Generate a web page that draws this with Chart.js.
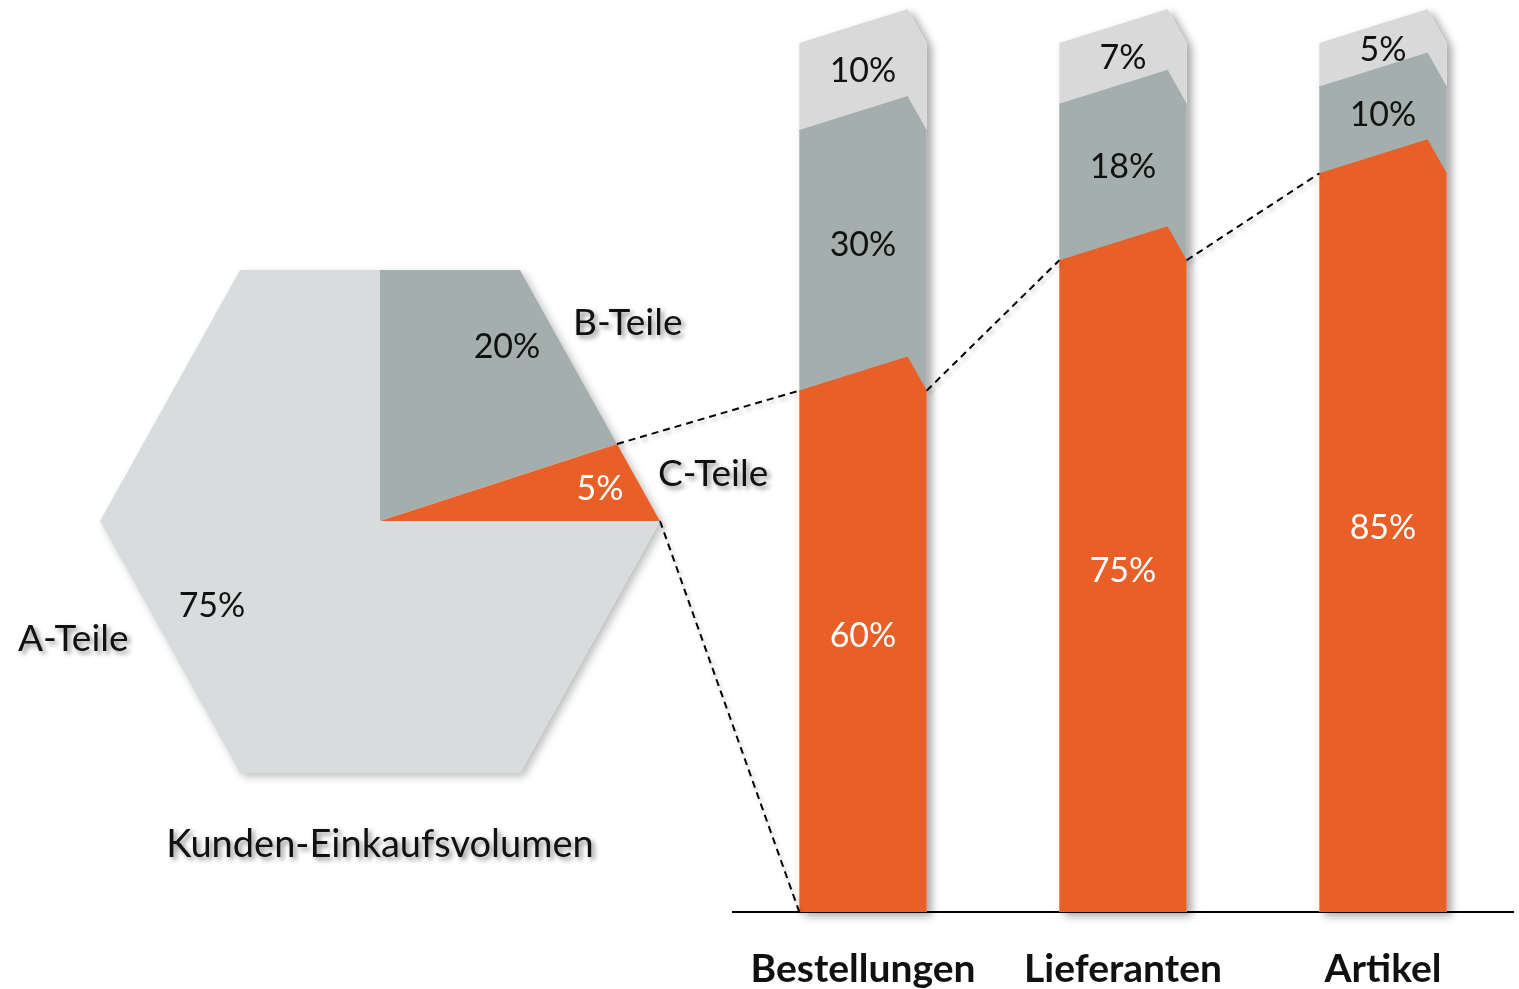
<!DOCTYPE html>
<html>
<head>
<meta charset="utf-8">
<script src="https://cdn.jsdelivr.net/npm/chart.js@4.4.0/dist/chart.umd.min.js"></script>
<style>
  html, body { margin: 0; padding: 0; background: #fff; overflow: hidden; }
  .box { position: absolute; left: 0; top: 0; }
</style>
</head>
<body>
<div class="box" style="width:800px;height:989px"><canvas id="pie"></canvas></div>
<div class="box" style="width:1519px;height:989px"><canvas id="bars"></canvas></div>
<script>
// Pie (hexagon): B, C, A clockwise from the top
var pieLabels = ['B-Teile', 'C-Teile', 'A-Teile'];
var pieValues = [20, 5, 75];
var pieTitle = 'Kunden-Einkaufsvolumen';

// Stacked bars
var categories = ['Bestellungen', 'Lieferanten', 'Artikel'];
var cTeile = [60, 75, 85];
var bTeile = [30, 18, 10];
var aTeile = [10, 7, 5];

var ORANGE = '#E95F28', GRAY = '#A3AEAD', LIGHT = '#D9D9D9', PIE_LIGHT = '#D9DCDD';
var FONT = 'Lato, "Open Sans", sans-serif';

// hexagon corners relative to the pie centre
var hex = [[280, 0], [140, -251], [-140, -251], [-280, 0], [-140, 252], [140, 252]];

function hexPath(ctx, cx, cy) {
    ctx.beginPath();
    hex.forEach(function (p, i) {
        if (i === 0) ctx.moveTo(cx + p[0], cy + p[1]);
        else ctx.lineTo(cx + p[0], cy + p[1]);
    });
    ctx.closePath();
}

// where a ray from the centre leaves the hexagon
function hexPoint(cx, cy, ang) {
    var dx = Math.cos(ang), dy = Math.sin(ang), best = null;
    for (var i = 0; i < hex.length; i++) {
        var a = hex[i], b = hex[(i + 1) % hex.length];
        var ex = b[0] - a[0], ey = b[1] - a[1];
        var den = dx * ey - dy * ex;
        if (Math.abs(den) < 1e-9) continue;
        var t = (a[0] * ey - a[1] * ex) / den;
        var s = (a[0] * dy - a[1] * dx) / den;
        if (t > 0 && s >= -1e-6 && s <= 1 + 1e-6 && (best === null || t < best)) best = t;
    }
    return { x: cx + dx * best, y: cy + dy * best };
}

var pieText = {
    id: 'pieText',
    beforeDatasetsDraw: function (chart) {
        var ctx = chart.ctx, arc = chart.getDatasetMeta(0).data[0];
        ctx.save();
        ctx.shadowColor = 'rgba(0,0,0,0.25)';
        ctx.shadowBlur = 8;
        ctx.shadowOffsetX = 4;
        ctx.shadowOffsetY = 4;
        hexPath(ctx, arc.x, arc.y);
        ctx.fillStyle = '#fff';
        ctx.fill();
        ctx.restore();
        ctx.save();
        hexPath(ctx, arc.x, arc.y);
        ctx.clip();
    },
    afterDatasetsDraw: function (chart) {
        var ctx = chart.ctx;
        ctx.restore();

        // values inside the hexagon
        var valuePos = [[507, 347], [600, 489], [212, 606]];
        var valueColor = ['#111', '#fff', '#111'];
        ctx.save();
        ctx.font = '34px ' + FONT;
        ctx.textAlign = 'center';
        ctx.textBaseline = 'middle';
        pieValues.forEach(function (v, i) {
            ctx.fillStyle = valueColor[i];
            ctx.fillText(v + '%', valuePos[i][0], valuePos[i][1]);
        });
        ctx.restore();

        // names around it, with a soft shadow
        var namePos = [[573, 323], [658, 474], [18, 639]];
        ctx.save();
        ctx.font = '37px ' + FONT;
        ctx.fillStyle = '#111';
        ctx.textBaseline = 'middle';
        ctx.shadowColor = 'rgba(0,0,0,0.45)';
        ctx.shadowBlur = 5;
        ctx.shadowOffsetX = 3;
        ctx.shadowOffsetY = 3;
        pieLabels.forEach(function (n, i) {
            ctx.textAlign = 'left';
            ctx.fillText(n, namePos[i][0], namePos[i][1]);
        });
        ctx.textAlign = 'center';
        ctx.font = '38px ' + FONT;
        ctx.fillText(pieTitle, 380, 845);
        ctx.restore();
    }
};

var pieChart = new Chart(document.getElementById('pie'), {
    type: 'pie',
    data: {
        labels: pieLabels,
        datasets: [{
            data: pieValues,
            backgroundColor: [GRAY, ORANGE, PIE_LIGHT],
            borderWidth: 0,
            hoverOffset: 0
        }]
    },
    options: {
        responsive: true,
        maintainAspectRatio: false,
        animation: false,
        events: [],
        layout: { padding: { left: 80, right: 120, top: 221, bottom: 168 } },
        plugins: { legend: { display: false }, tooltip: { enabled: false } }
    },
    plugins: [pieText]
});

var CAP = 34, PEAK = 0.85;

function capPath(ctx, el, seam) {
    var l = el.x - el.width / 2, r = el.x + el.width / 2;
    if (seam) ctx.moveTo(l, el.y + 1.5);
    ctx.lineTo(l, el.y);
    ctx.lineTo(l + el.width * PEAK, el.y - CAP);
    ctx.lineTo(r, el.y);
    if (seam) ctx.lineTo(r, el.y + 1.5);
}

var barDecor = {
    id: 'barDecor',
    beforeDatasetsDraw: function (chart) {
        var ctx = chart.ctx;
        var bottom = chart.getDatasetMeta(0).data, top = chart.getDatasetMeta(2).data;
        ctx.save();
        ctx.shadowColor = 'rgba(0,0,0,0.35)';
        ctx.shadowBlur = 8;
        ctx.shadowOffsetX = 5;
        ctx.shadowOffsetY = 4;
        ctx.fillStyle = '#fff';
        top.forEach(function (el, i) {
            var l = el.x - el.width / 2, r = el.x + el.width / 2;
            ctx.beginPath();
            ctx.moveTo(l, bottom[i].base);
            capPath(ctx, el, false);
            ctx.lineTo(r, bottom[i].base);
            ctx.closePath();
            ctx.fill();
        });
        ctx.restore();
    },
    afterDatasetsDraw: function (chart) {
        var ctx = chart.ctx;
        var textColor = ['#fff', '#111', '#111'];
        ctx.save();
        chart.data.datasets.forEach(function (ds, d) {
            var meta = chart.getDatasetMeta(d);
            ctx.fillStyle = ds.backgroundColor;
            meta.data.forEach(function (el) {
                ctx.beginPath();
                capPath(ctx, el, d < 2);
                ctx.closePath();
                ctx.fill();
            });
        });
        ctx.font = '34px ' + FONT;
        ctx.textAlign = 'center';
        ctx.textBaseline = 'middle';
        chart.data.datasets.forEach(function (ds, d) {
            var meta = chart.getDatasetMeta(d);
            ctx.fillStyle = textColor[d];
            meta.data.forEach(function (el, i) {
                ctx.fillText(ds.data[i] + '%', el.x, (el.y + el.base) / 2 - 15);
            });
        });
        ctx.restore();

        // dashed connectors
        var c = chart.getDatasetMeta(0).data;
        var arc = pieChart.getDatasetMeta(0).data[1];
        var p1 = hexPoint(arc.x, arc.y, arc.startAngle);
        var p2 = hexPoint(arc.x, arc.y, arc.endAngle);
        var segs = [
            [p1.x, p1.y, c[0].x - c[0].width / 2, c[0].y],
            [p2.x, p2.y, c[0].x - c[0].width / 2, c[0].base],
            [c[0].x + c[0].width / 2, c[0].y, c[1].x - c[1].width / 2, c[1].y],
            [c[1].x + c[1].width / 2, c[1].y, c[2].x - c[2].width / 2, c[2].y]
        ];
        ctx.save();
        ctx.strokeStyle = '#000';
        ctx.lineWidth = 2;
        ctx.setLineDash([7, 5]);
        ctx.shadowColor = 'rgba(0,0,0,0.25)';
        ctx.shadowBlur = 4;
        ctx.shadowOffsetX = 2;
        ctx.shadowOffsetY = 3;
        segs.forEach(function (s) {
            ctx.beginPath();
            ctx.moveTo(s[0], s[1]);
            ctx.lineTo(s[2], s[3]);
            ctx.stroke();
        });
        ctx.restore();
    }
};

new Chart(document.getElementById('bars'), {
    type: 'bar',
    data: {
        labels: categories,
        datasets: [
            { label: 'C-Teile', data: cTeile, backgroundColor: ORANGE },
            { label: 'B-Teile', data: bTeile, backgroundColor: GRAY },
            { label: 'A-Teile', data: aTeile, backgroundColor: LIGHT }
        ]
    },
    options: {
        responsive: true,
        maintainAspectRatio: false,
        animation: false,
        events: [],
        layout: { padding: { left: 733, right: 6, top: 43, bottom: 0 } },
        datasets: { bar: { categoryPercentage: 1, barPercentage: 0.49, borderWidth: 0 } },
        plugins: { legend: { display: false }, tooltip: { enabled: false } },
        scales: {
            x: {
                stacked: true,
                grid: { display: false, drawTicks: false },
                border: { display: true, color: '#000', width: 2 },
                ticks: { color: '#111', padding: 34, font: { family: FONT, size: 39, weight: 'bold' } },
                afterFit: function (s) { s.height = 77; }
            },
            y: { stacked: true, display: false, min: 0, max: 100 }
        }
    },
    plugins: [barDecor]
});
</script>
</body>
</html>
